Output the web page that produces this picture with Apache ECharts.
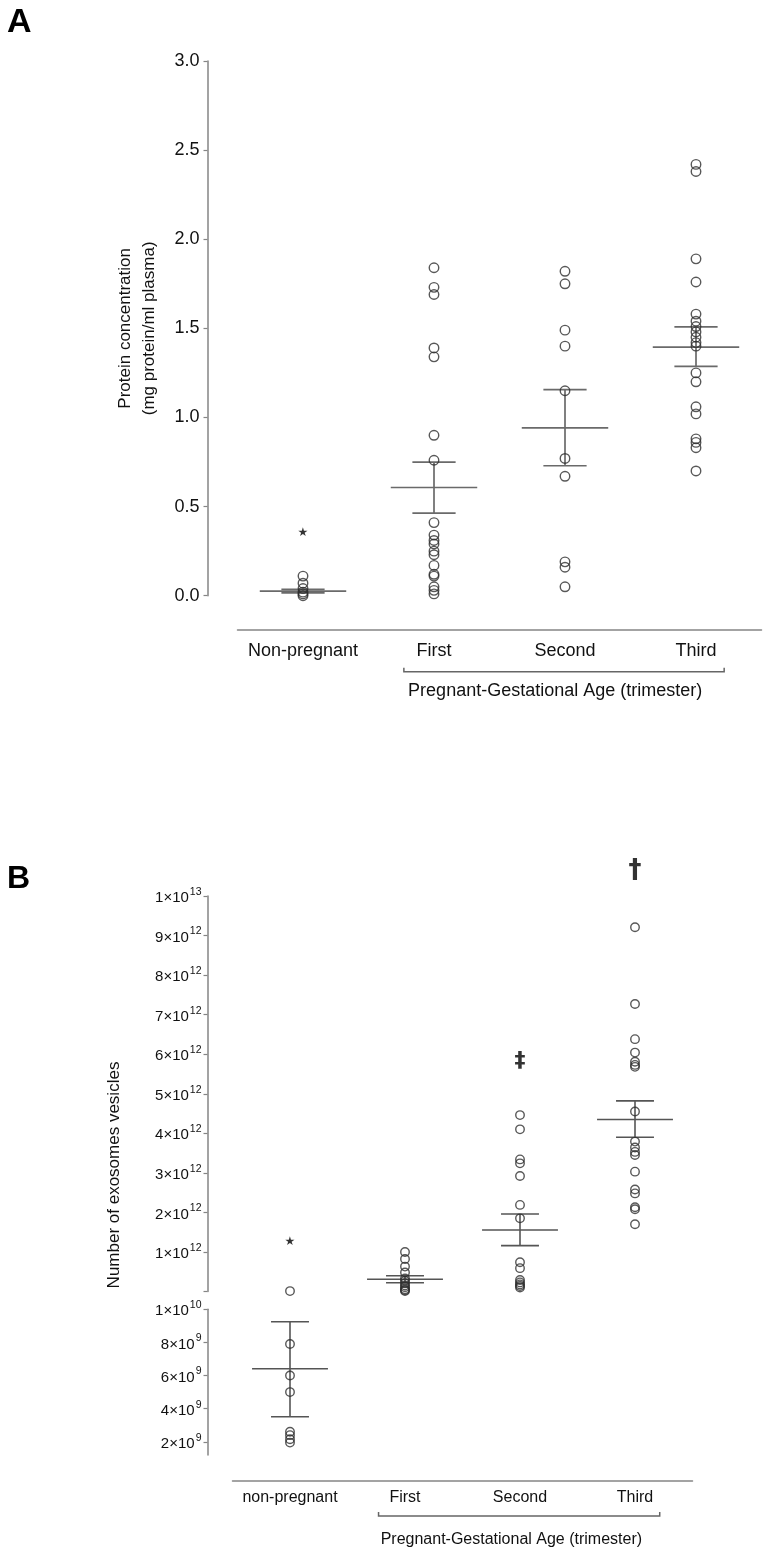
<!DOCTYPE html>
<html><head><meta charset="utf-8">
<script src="https://cdn.jsdelivr.net/npm/echarts@6/dist/echarts.min.js"></script>
<style>html,body{margin:0;padding:0;background:#fff}#c{width:769px;height:1553px}</style>
</head><body><div id="c"></div>
<script>
// ---------- Panel A data ----------
const catsA = ['Non-pregnant', 'First', 'Second', 'Third'];
const protNonPreg = [0.11, 0.07, 0.04, 0.02, 0.01, 0.0];
const protFirst = [1.84, 1.73, 1.69, 1.39, 1.34, 0.90, 0.76, 0.41, 0.34, 0.31, 0.29, 0.25, 0.23, 0.17, 0.12, 0.11, 0.05, 0.03, 0.01];
const protSecond = [1.82, 1.75, 1.49, 1.40, 1.15, 0.77, 0.67, 0.19, 0.16, 0.05];
const protThird = [2.42, 2.38, 1.89, 1.76, 1.58, 1.54, 1.51, 1.48, 1.45, 1.42, 1.40, 1.25, 1.20, 1.06, 1.02, 0.88, 0.86, 0.83, 0.70];
const protMean = [0.026, 0.607, 0.942, 1.395];
const protSemLo = [0.016, 0.463, 0.729, 1.287];
const protSemHi = [0.036, 0.749, 1.156, 1.508];
const protMarks = [{cat: 0, y: 0.35, text: '★'}];
const protTicks = {min: 0, max: 3, interval: 0.5};

// ---------- Panel B data ----------
const catsB = ['non-pregnant', 'First', 'Second', 'Third'];
const exoNonPreg = [1.11e10, 7.9e9, 6.0e9, 5.0e9, 2.6e9, 2.4e9, 2.15e9, 1.95e9];
const exoFirst = [1.0e12, 0.82e12, 0.63e12, 0.48e12, 0.33e12, 0.27e12, 0.21e12, 0.15e12, 0.11e12, 0.06e12, 0.03e12, 0.01e12];
const exoSecond = [4.46e12, 4.10e12, 3.34e12, 3.24e12, 2.92e12, 2.19e12, 1.85e12, 0.74e12, 0.59e12, 0.29e12, 0.23e12, 0.18e12, 0.14e12, 0.10e12];
const exoThird = [9.21e12, 7.27e12, 6.38e12, 6.04e12, 5.81e12, 5.73e12, 5.68e12, 4.55e12, 3.79e12, 3.64e12, 3.53e12, 3.45e12, 3.03e12, 2.58e12, 2.48e12, 2.13e12, 2.08e12, 1.70e12];
const exoMean = [6.41e9, 0.31e12, 1.555e12, 4.35e12];
const exoSemLo = [3.51e9, 0.22e12, 1.16e12, 3.90e12];
const exoSemHi = [9.25e9, 0.40e12, 1.96e12, 4.82e12];
const exoMarks = [{cat: 0, y: 1.26e12, text: '★'}, {cat: 2, y: 5.83e12, text: '‡'}, {cat: 3, y: 10.63e12, text: '†'}];
const exoUpperTicks = {min: 0, max: 1e13, interval: 1e12};
const exoLowerTicks = [2e9, 4e9, 6e9, 8e9, 1e10];
const exoLowerRange = {min: 1.2e9, max: 1e10};

// ---------- helpers ----------
const FONT = 'Liberation Sans, Arial, Helvetica, sans-serif';
const AX = '#858585';
const TXT = '#111';

function pts(cat, arr) { return arr.map(v => [cat, v]); }
function sciLabel(v) {
  if (!v) return '';
  const e = Math.floor(Math.log10(v) + 1e-9);
  const m = Math.round(v / Math.pow(10, e));
  return '{m|' + m + '×10}{e|' + e + '}';
}
const sciRich = {
  m: {fontSize: 15, fontFamily: FONT, color: TXT, verticalAlign: 'middle', padding: [4, 0, 0, 0]},
  e: {fontSize: 10.5, fontFamily: FONT, color: TXT, verticalAlign: 'top', padding: [0, 0, 0, 1]}
};
function meanSem(color, width) {
  return function (params, api) {
    const x = api.value(0);
    const c = api.coord([x, api.value(1)]);
    const lo = api.coord([x, api.value(2)]);
    const hi = api.coord([x, api.value(3)]);
    const bw = api.size([1, 0])[0];
    const style = {stroke: color, lineWidth: width, fill: null};
    const half = bw * 0.33, cap = bw * 0.165;
    return {type: 'group', children: [
      {type: 'line', shape: {x1: c[0] - half, y1: c[1], x2: c[0] + half, y2: c[1]}, style},
      {type: 'line', shape: {x1: c[0], y1: lo[1], x2: c[0], y2: hi[1]}, style},
      {type: 'line', shape: {x1: c[0] - cap, y1: lo[1], x2: c[0] + cap, y2: lo[1]}, style},
      {type: 'line', shape: {x1: c[0] - cap, y1: hi[1], x2: c[0] + cap, y2: hi[1]}, style}
    ]};
  };
}
function markData(marks) {
  return marks.map(m => ({
    value: [m.cat, m.y],
    label: {formatter: m.text, fontSize: m.text === '★' ? 12 : (m.text === '†' ? 26 : 22), fontWeight: 'bold'}
  }));
}
const circleStyle = {color: 'rgba(0,0,0,0)', borderColor: '#2e2e2e', borderWidth: 1.4};

const chart = echarts.init(document.getElementById('c'), null, {renderer: 'canvas'});
const option = {
  backgroundColor: '#fff',
  animation: false,
  textStyle: {fontFamily: FONT},
  grid: [
    {left: 237.5, right: 7.5, top: 61, height: 534.7},
    {left: 232.5, right: 76.5, top: 896, height: 395.5},
    {left: 232.5, right: 76.5, top: 1309.3, height: 145.7}
  ],
  xAxis: [
    {gridIndex: 0, type: 'category', data: catsA, boundaryGap: true, offset: 34,
     axisLine: {onZero: false, lineStyle: {color: AX, width: 1.5}},
     axisTick: {alignWithLabel: true, length: 4, lineStyle: {color: AX, width: 1.2}},
     axisLabel: {interval: 0, fontSize: 18, color: TXT, margin: 12, fontFamily: FONT},
     splitLine: {show: false}},
    {gridIndex: 1, type: 'category', data: catsB, boundaryGap: true, show: false},
    {gridIndex: 2, type: 'category', data: catsB, boundaryGap: true, offset: 25.7,
     axisLine: {onZero: false, lineStyle: {color: AX, width: 1.5}},
     axisTick: {alignWithLabel: true, length: 4, lineStyle: {color: AX, width: 1.2}},
     axisLabel: {interval: 0, fontSize: 16, color: TXT, margin: 9, fontFamily: FONT},
     splitLine: {show: false}}
  ],
  yAxis: [
    {gridIndex: 0, type: 'value', min: protTicks.min, max: protTicks.max, interval: protTicks.interval, offset: 30,
     axisLine: {show: true, onZero: false, lineStyle: {color: AX, width: 1.5}},
     axisTick: {show: true, length: 4, lineStyle: {color: AX, width: 1.2}},
     axisLabel: {formatter: v => v.toFixed(1), fontSize: 18, color: TXT, margin: 8, fontFamily: FONT},
     splitLine: {show: false},
     name: 'Protein concentration\n(mg protein/ml plasma)', nameLocation: 'middle', nameGap: 46,
     nameTextStyle: {fontSize: 17, lineHeight: 24, color: TXT, fontFamily: FONT}},
    {gridIndex: 1, type: 'value', min: exoUpperTicks.min, max: exoUpperTicks.max, interval: exoUpperTicks.interval, offset: 25,
     axisLine: {show: true, onZero: false, lineStyle: {color: AX, width: 1.5}},
     axisTick: {show: true, length: 4, lineStyle: {color: AX, width: 1.2}},
     axisLabel: {formatter: sciLabel, rich: sciRich, margin: 6},
     splitLine: {show: false}},
    {gridIndex: 2, type: 'value', min: exoLowerRange.min, max: exoLowerRange.max, offset: 25,
     axisLine: {show: true, onZero: false, lineStyle: {color: AX, width: 1.5}},
     axisTick: {show: true, length: 4, customValues: exoLowerTicks, lineStyle: {color: AX, width: 1.2}},
     axisLabel: {formatter: sciLabel, rich: sciRich, margin: 6, customValues: exoLowerTicks},
     splitLine: {show: false}}
  ],
  series: [
    {type: 'custom', xAxisIndex: 0, yAxisIndex: 0, renderItem: meanSem('#6a6a6a', 1.7), z: 2,
     data: catsA.map((c, i) => [i, protMean[i], protSemLo[i], protSemHi[i]])},
    {type: 'scatter', xAxisIndex: 0, yAxisIndex: 0, symbol: 'circle', symbolSize: 9.5, itemStyle: circleStyle, z: 3, clip: false,
     data: [].concat(pts(0, protNonPreg), pts(1, protFirst), pts(2, protSecond), pts(3, protThird))},
    {type: 'scatter', xAxisIndex: 0, yAxisIndex: 0, symbolSize: 1, itemStyle: {color: 'rgba(0,0,0,0)'}, clip: false, silent: true,
     label: {show: true, position: 'inside', color: '#000', fontFamily: 'DejaVu Sans'}, data: markData(protMarks)},

    {type: 'custom', xAxisIndex: 1, yAxisIndex: 1, renderItem: meanSem('#555', 1.6), z: 2,
     data: [1, 2, 3].map(i => [i, exoMean[i], exoSemLo[i], exoSemHi[i]])},
    {type: 'scatter', xAxisIndex: 1, yAxisIndex: 1, symbol: 'circle', symbolSize: 8.5, itemStyle: circleStyle, z: 3, clip: false,
     data: [].concat(pts(1, exoFirst), pts(2, exoSecond), pts(3, exoThird))},
    {type: 'scatter', xAxisIndex: 1, yAxisIndex: 1, symbolSize: 1, itemStyle: {color: 'rgba(0,0,0,0)'}, clip: false, silent: true,
     label: {show: true, position: 'inside', color: '#000', fontFamily: 'DejaVu Sans'}, data: markData(exoMarks)},

    {type: 'custom', xAxisIndex: 2, yAxisIndex: 2, renderItem: meanSem('#555', 1.6), z: 2,
     data: [[0, exoMean[0], exoSemLo[0], exoSemHi[0]]]},
    {type: 'scatter', xAxisIndex: 2, yAxisIndex: 2, symbol: 'circle', symbolSize: 8.5, itemStyle: circleStyle, z: 3, clip: false,
     data: pts(0, exoNonPreg)}
  ]
};
chart.setOption(option);

// ---------- decorations (bracket, group labels, panel letters) ----------
function bracket(xAxisIndex, yAxisIndex, yMin, axisOffset, bracketGap, textGap, fontSize) {
  const x1 = chart.convertToPixel({xAxisIndex}, 1);
  const x2 = chart.convertToPixel({xAxisIndex}, 2);
  const x3 = chart.convertToPixel({xAxisIndex}, 3);
  const bw = x2 - x1;
  const axisY = chart.convertToPixel({yAxisIndex}, yMin) + axisOffset;
  const by = axisY + bracketGap;
  const l = x1 - 0.23 * bw, r = x3 + 0.215 * bw;
  return [
    {type: 'polyline', shape: {points: [[l, by - 4], [l, by], [r, by], [r, by - 4]]},
     style: {stroke: '#666', lineWidth: 1.5, fill: null}},
    {type: 'text', x: x2 - 0.075 * bw, y: axisY + textGap,
     style: {text: 'Pregnant-Gestational Age (trimester)', font: fontSize + 'px ' + FONT, fill: TXT,
             textAlign: 'center', textVerticalAlign: 'middle'}}
  ];
}
const g = [].concat(
  bracket(0, 0, protTicks.min, 34, 42, 61.5, 18),
  bracket(2, 2, exoLowerRange.min, 25.7, 35.3, 58.6, 16),
  [
    {type: 'text', x: 7, y: 6, style: {text: 'A', font: 'bold 34px ' + FONT, fill: '#000'}},
    {type: 'text', x: 7, y: 863, style: {text: 'B', font: 'bold 32px ' + FONT, fill: '#000'}},
    {type: 'text', x: 114, y: 1175, rotation: Math.PI / 2,
     style: {text: 'Number of exosomes vesicles', font: '17px ' + FONT, fill: TXT, textAlign: 'center', textVerticalAlign: 'middle'}}
  ]
);
chart.setOption({graphic: g});
</script>
</body></html>
